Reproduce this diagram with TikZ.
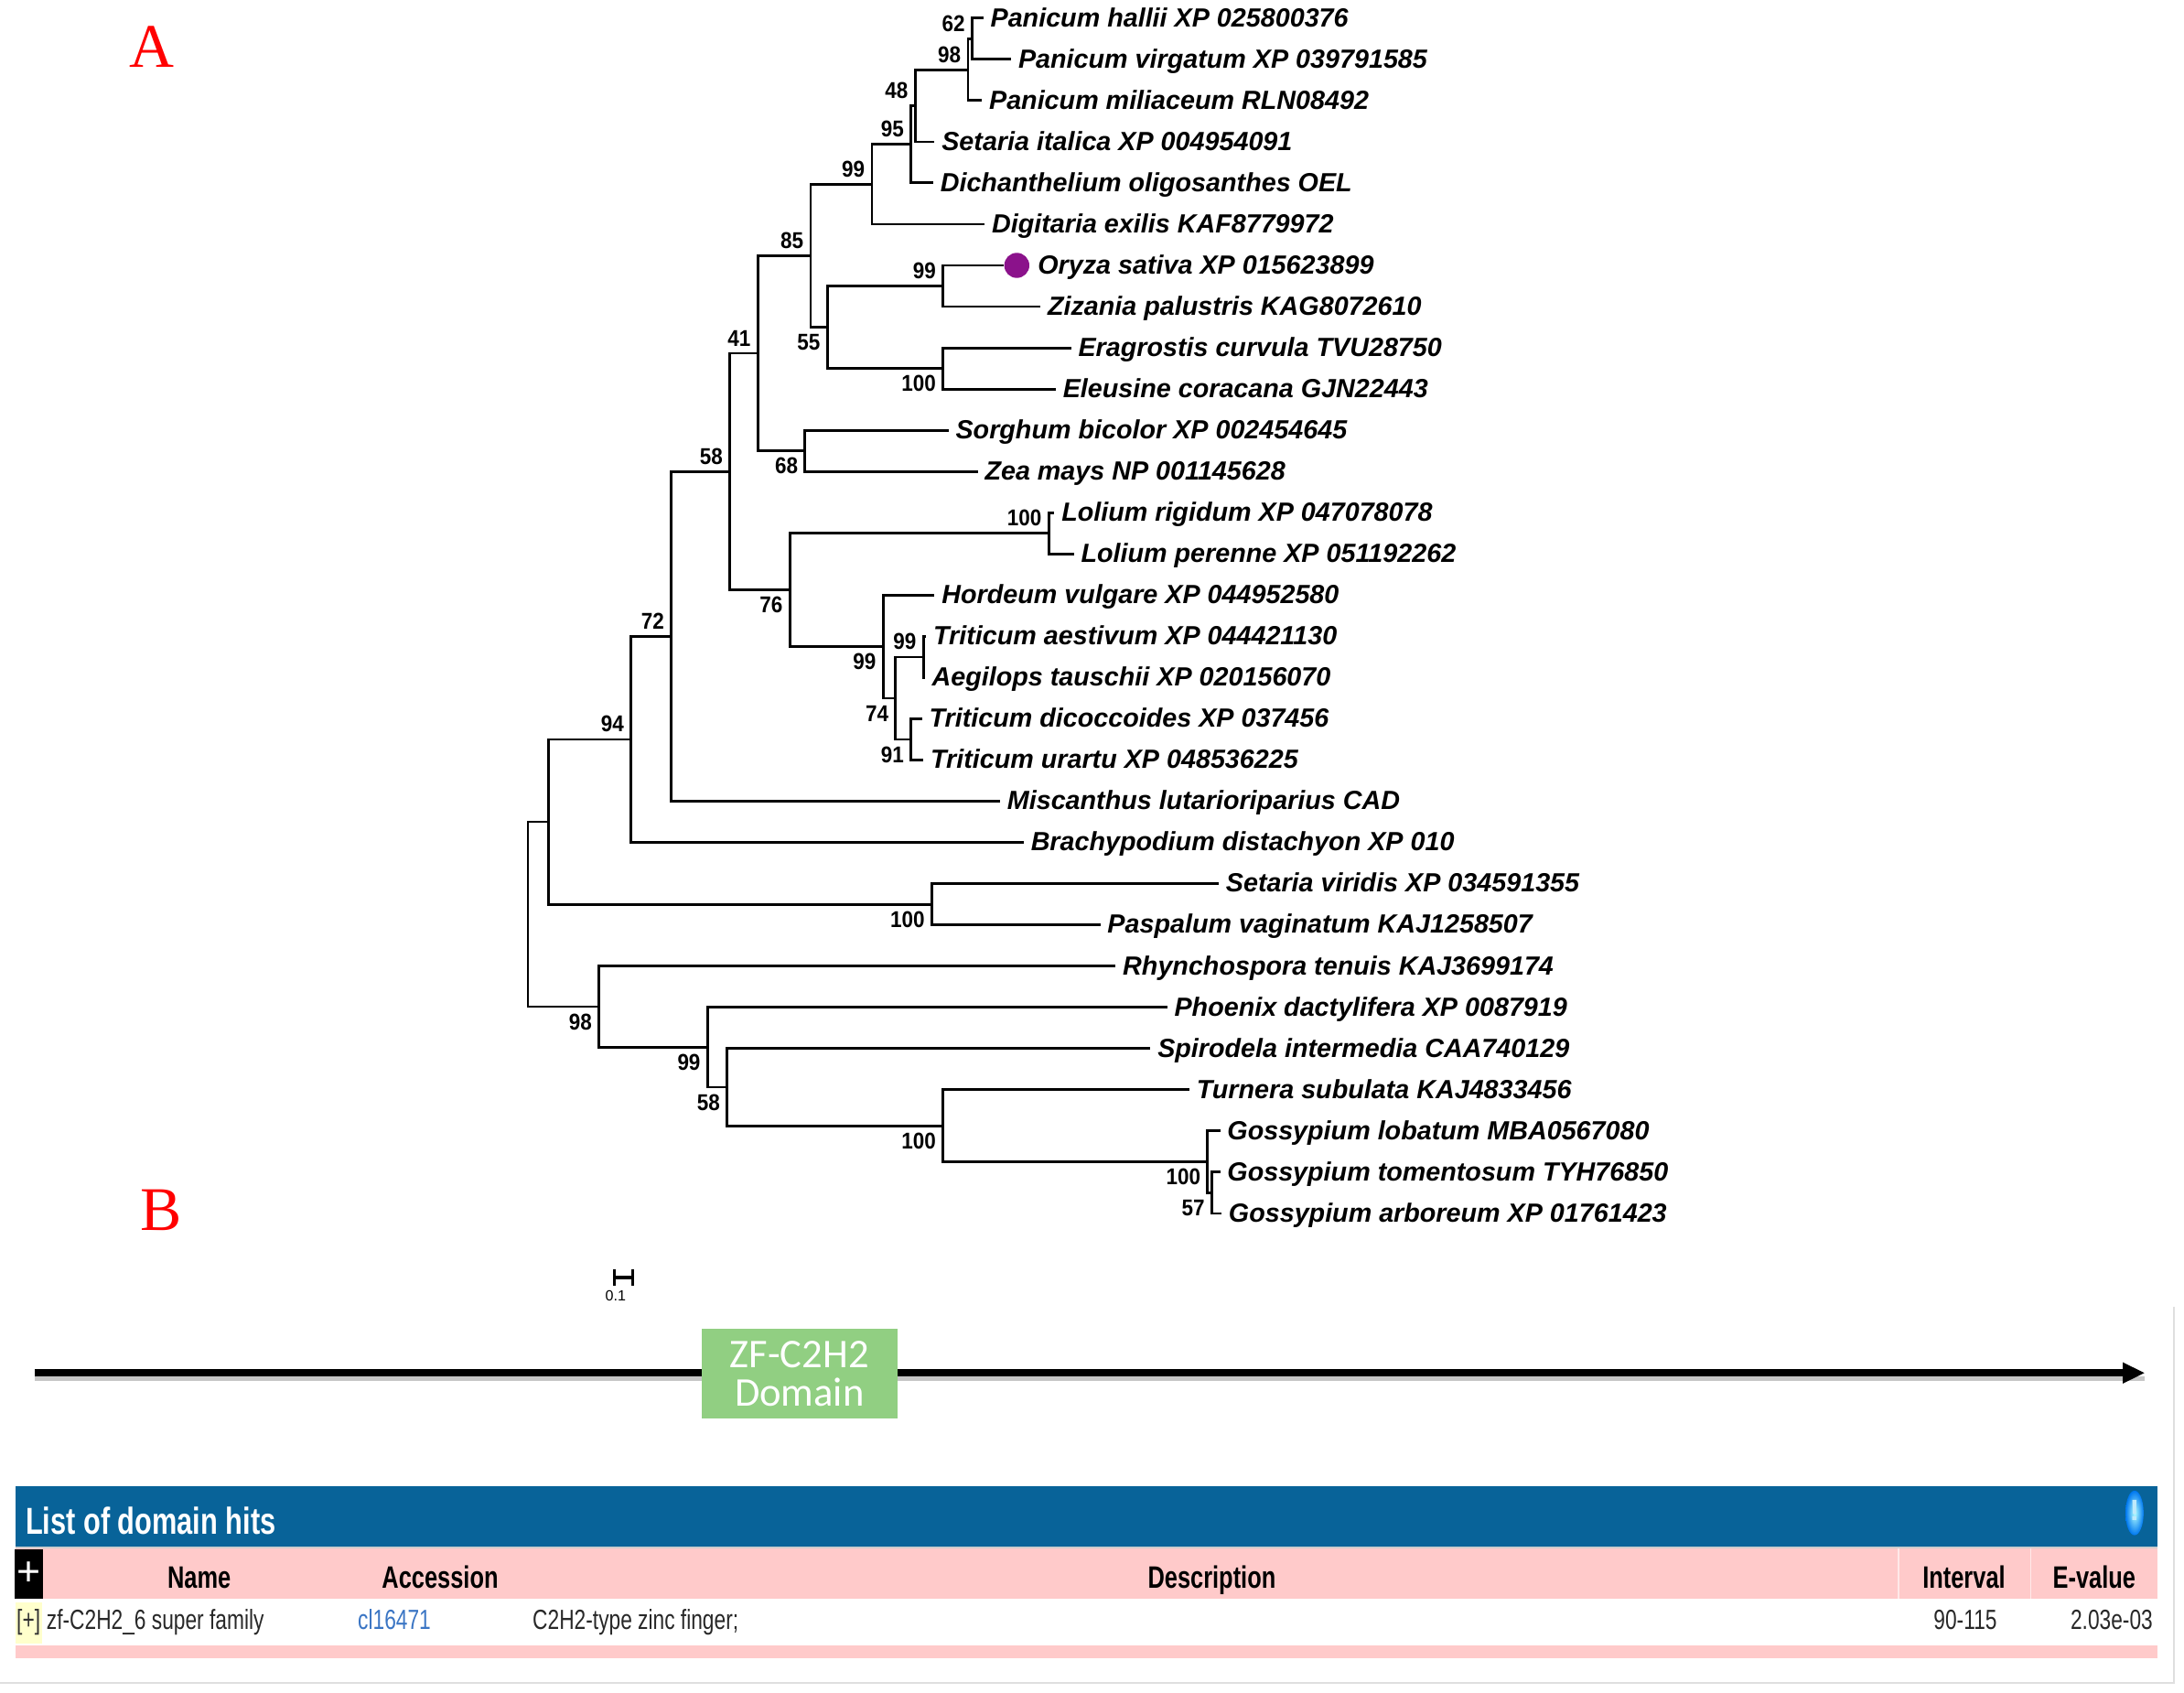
\documentclass[tikz,border=0pt]{standalone}
\usepackage{fontspec}
\setmainfont{Liberation Sans}
\newfontfamily\panelfont{Liberation Serif}
\newfontfamily\boxfont{Carlito}
\newfontfamily\narrowfont[FakeStretch=0.75]{Liberation Sans}
\newfontfamily\bootfont[FakeStretch=0.9]{Liberation Sans}
\usetikzlibrary{arrows.meta,positioning}

\definecolor{dotpurple}{RGB}{139,18,139}
\definecolor{domgreen}{RGB}{145,207,130}
\definecolor{hitsblue}{RGB}{8,99,153}
\definecolor{hitspink}{RGB}{255,202,202}
\definecolor{acclink}{RGB}{58,117,196}
\definecolor{togglebg}{RGB}{255,255,204}
\definecolor{rowtext}{RGB}{40,40,40}

\begin{document}
\begin{tikzpicture}[x=0.15mm, y=-0.15mm,
    leaf/.style = {anchor=west, inner sep=2pt, text height=5.8pt, text depth=0.6pt, font=\fontsize{8.05}{9}\selectfont\bfseries\itshape},
    boot/.style = {inner sep=2pt, font=\bootfont\fontsize{7}{8}\selectfont\bfseries},
    br/.style = {line width=0.8pt},
    panel/.style = {inner sep=0pt, text=red, font=\panelfont\fontsize{19}{22}\selectfont},
    domainbox/.style = {fill=domgreen, text=white, align=center, inner sep=0pt, minimum width=21.1mm, minimum height=9.7mm, font=\boxfont\fontsize{12.5}{11.8}\selectfont},
    hitstitle/.style = {anchor=base west, inner sep=0pt, text=white, font=\narrowfont\bfseries\fontsize{11.5}{14}\selectfont},
    hitshead/.style = {anchor=base, inner sep=0pt, font=\narrowfont\bfseries\fontsize{9.5}{11}\selectfont},
    hitsrow/.style = {anchor=base west, inner sep=0pt, text=rowtext, font=\narrowfont\fontsize{8.5}{10}\selectfont}]

    \fill[white] (0,0) rectangle (1568,1215);
    \useasboundingbox (0,0) rectangle (1568,1215);

    \node[panel] (labA) at (108.8,33.3) {A};
    \node[panel] (labB) at (115.5,869) {B};

    \node[leaf] (hallii) at (706,13) {Panicum hallii XP 025800376};
    \node[leaf] (virgatum) at (726,42.6) {Panicum virgatum XP 039791585};
    \node[leaf] (miliaceum) at (705,72.2) {Panicum miliaceum RLN08492};
    \node[leaf] (italica) at (671,101.8) {Setaria italica XP 004954091};
    \node[leaf] (dichanth) at (670,131.3) {Dichanthelium oligosanthes OEL};
    \node[leaf] (digitaria) at (707,160.9) {Digitaria exilis KAF8779972};
    \node[circle, fill=dotpurple, minimum size=2.7mm, inner sep=0pt] (oryzadot) at (730,190.5) {};
    \node[leaf] (oryza) at (740,190.5) {Oryza sativa XP 015623899};
    \node[leaf] (zizania) at (747,220.1) {Zizania palustris KAG8072610};
    \node[leaf] (eragrostis) at (769,249.7) {Eragrostis curvula TVU28750};
    \node[leaf] (eleusine) at (758,279.3) {Eleusine coracana GJN22443};
    \node[leaf] (sorghum) at (681,308.9) {Sorghum bicolor XP 002454645};
    \node[leaf] (zea) at (702,338.4) {Zea mays NP 001145628};
    \node[leaf] (lrigidum) at (757,368) {Lolium rigidum XP 047078078};
    \node[leaf] (lperenne) at (771,397.6) {Lolium perenne XP 051192262};
    \node[leaf] (hordeum) at (671,427.2) {Hordeum vulgare XP 044952580};
    \node[leaf] (aestivum) at (665,456.8) {Triticum aestivum XP 044421130};
    \node[leaf] (aegilops) at (664,486.4) {Aegilops tauschii XP 020156070};
    \node[leaf] (dicoccoides) at (662,516) {Triticum dicoccoides XP 037456};
    \node[leaf] (urartu) at (663,545.6) {Triticum urartu XP 048536225};
    \node[leaf] (miscanthus) at (718,575.1) {Miscanthus lutarioriparius CAD};
    \node[leaf] (brachy) at (735,604.7) {Brachypodium distachyon XP 010};
    \node[leaf] (viridis) at (875,634.3) {Setaria viridis XP 034591355};
    \node[leaf] (paspalum) at (790,663.9) {Paspalum vaginatum KAJ1258507};
    \node[leaf] (rhyncho) at (801,693.5) {Rhynchospora tenuis KAJ3699174};
    \node[leaf] (phoenix) at (838,723.1) {Phoenix dactylifera XP 0087919};
    \node[leaf] (spirodela) at (826,752.7) {Spirodela intermedia CAA740129};
    \node[leaf] (turnera) at (854,782.3) {Turnera subulata KAJ4833456};
    \node[leaf] (globatum) at (876,811.8) {Gossypium lobatum MBA0567080};
    \node[leaf] (gtoment) at (876,841.4) {Gossypium tomentosum TYH76850};
    \node[leaf] (garboreum) at (877,871) {Gossypium arboreum XP 01761423};

    \coordinate (n62) at (698,27.8);
    \coordinate (n98a) at (695,50);
    \coordinate (n48) at (657,75.9);
    \coordinate (n95) at (654,103.6);
    \coordinate (n99a) at (626,132.25);
    \coordinate (n99b) at (677,205.3);
    \coordinate (n100a) at (677,264.5);
    \coordinate (n55) at (594,234.9);
    \coordinate (n85) at (582,183.6);
    \coordinate (n68) at (578,323.65);
    \coordinate (n41) at (544,253.6);
    \coordinate (n100b) at (753,382.8);
    \coordinate (n99c) at (663,471.6);
    \coordinate (n91) at (654,530.8);
    \coordinate (n74) at (643,501.2);
    \coordinate (n99d) at (634,464.2);
    \coordinate (n76) at (567,423.5);
    \coordinate (n58a) at (524,338.55);
    \coordinate (n72) at (482,456.8);
    \coordinate (n94) at (453,530.75);
    \coordinate (n100c) at (669,649.1);
    \coordinate (nx) at (394,589.9);
    \coordinate (n57) at (870,856.2);
    \coordinate (n100e) at (867,834);
    \coordinate (n100d) at (677,808.15);
    \coordinate (n58b) at (522,780.4);
    \coordinate (n99e) at (508,751.75);
    \coordinate (n98b) at (430,722.6);
    \coordinate (root) at (379,656.25);

    \draw[br] (n62) |- (hallii.west);
    \draw[br] (n62) |- (virgatum.west);
    \draw[br] (n98a) |- (n62);
    \draw[br] (n98a) |- (miliaceum.west);
    \draw[br] (n48) |- (n98a);
    \draw[br] (n48) |- (italica.west);
    \draw[br] (n95) |- (n48);
    \draw[br] (n95) |- (dichanth.west);
    \draw[br] (n99a) |- (n95);
    \draw[br] (n99a) |- (digitaria.west);

    \draw[br] (n99b) |- (oryzadot.west);
    \draw[br] (n99b) |- (zizania.west);
    \draw[br] (n100a) |- (eragrostis.west);
    \draw[br] (n100a) |- (eleusine.west);
    \draw[br] (n55) |- (n99b);
    \draw[br] (n55) |- (n100a);
    \draw[br] (n85) |- (n99a);
    \draw[br] (n85) |- (n55);

    \draw[br] (n68) |- (sorghum.west);
    \draw[br] (n68) |- (zea.west);
    \draw[br] (n41) |- (n85);
    \draw[br] (n41) |- (n68);

    \draw[br] (n100b) |- (lrigidum.west);
    \draw[br] (n100b) |- (lperenne.west);
    \draw[br] (n99c) |- (aestivum.west);
    \draw[br] (n99c) |- (aegilops.west);
    \draw[br] (n91) |- (dicoccoides.west);
    \draw[br] (n91) |- (urartu.west);
    \draw[br] (n74) |- (n99c);
    \draw[br] (n74) |- (n91);
    \draw[br] (n99d) |- (hordeum.west);
    \draw[br] (n99d) |- (n74);
    \draw[br] (n76) |- (n100b);
    \draw[br] (n76) |- (n99d);

    \draw[br] (n58a) |- (n41);
    \draw[br] (n58a) |- (n76);
    \draw[br] (n72) |- (n58a);
    \draw[br] (n72) |- (miscanthus.west);
    \draw[br] (n94) |- (n72);
    \draw[br] (n94) |- (brachy.west);
    \draw[br] (n100c) |- (viridis.west);
    \draw[br] (n100c) |- (paspalum.west);
    \draw[br] (nx) |- (n94);
    \draw[br] (nx) |- (n100c);

    \draw[br] (n57) |- (gtoment.west);
    \draw[br] (n57) |- (garboreum.west);
    \draw[br] (n100e) |- (globatum.west);
    \draw[br] (n100e) |- (n57);
    \draw[br] (n100d) |- (turnera.west);
    \draw[br] (n100d) |- (n100e);
    \draw[br] (n58b) |- (spirodela.west);
    \draw[br] (n58b) |- (n100d);
    \draw[br] (n99e) |- (phoenix.west);
    \draw[br] (n99e) |- (n58b);
    \draw[br] (n98b) |- (rhyncho.west);
    \draw[br] (n98b) |- (n99e);
    \draw[br] (root) |- (nx);
    \draw[br] (root) |- (n98b);

    \node[boot, above left] (b62) at (n62) {62};
    \node[boot, above left] (b98a) at (n98a) {98};
    \node[boot, above left] (b48) at (n48) {48};
    \node[boot, above left] (b95) at (n95) {95};
    \node[boot, above left] (b99a) at (n99a) {99};
    \node[boot, above left] (b85) at (n85) {85};
    \node[boot, above left] (b99b) at (n99b) {99};
    \node[boot, below left] (b55) at (n55) {55};
    \node[boot, below left] (b100a) at (n100a) {100};
    \node[boot, above left] (b41) at (n41) {41};
    \node[boot, below left] (b68) at (n68) {68};
    \node[boot, above left] (b58a) at (n58a) {58};
    \node[boot, above left] (b100b) at (n100b) {100};
    \node[boot, below left] (b76) at (n76) {76};
    \node[boot, above left] (b99c) at (n99c) {99};
    \node[boot, below left] (b99d) at (n99d) {99};
    \node[boot, below left] (b74) at (n74) {74};
    \node[boot, below left] (b91) at (n91) {91};
    \node[boot, above left] (b72) at (n72) {72};
    \node[boot, above left] (b94) at (n94) {94};
    \node[boot, below left] (b100c) at (n100c) {100};
    \node[boot, below left] (b98b) at (n98b) {98};
    \node[boot, below left] (b99e) at (n99e) {99};
    \node[boot, below left] (b58b) at (n58b) {58};
    \node[boot, below left] (b100d) at (n100d) {100};
    \node[boot, below left] (b100e) at (n100e) {100};
    \node[boot, below left] (b57) at (n57) {57};

    \coordinate (sbl) at (441,917);
    \coordinate (sbr) at (454,917);
    \draw[line width=0.9pt] (sbl) -- (sbr);
    \draw[line width=0.9pt] ([yshift=0.9mm]sbl) -- ([yshift=-0.9mm]sbl);
    \draw[line width=0.9pt] ([yshift=0.9mm]sbr) -- ([yshift=-0.9mm]sbr);
    \node[inner sep=0pt, font=\fontsize{4.5}{5}\selectfont] (sblabel) at (442,930) {0.1};

    \coordinate (protn) at (25,985.5);
    \coordinate (protc) at (1540,985.5);
    \draw[gray!45, line width=0.5mm] ([yshift=-0.64mm]protn) -- ([yshift=-0.64mm]protc);
    \draw[line width=0.75mm, -{Triangle[length=2.4mm, width=2.1mm]}] (protn) -- (protc);
    \node[domainbox] (zfdomain) at (574,986) {ZF-C2H2\\Domain};

    \draw[gray!25, line width=0.6pt] (1560.5,938) -- (1560.5,1208) -- (0,1208);

    \fill[hitsblue] (11,1066.5) rectangle (1549,1110.3);
    \draw[gray!40, line width=0.4pt] (11,1110.8) -- (1549,1110.8);
    \fill[hitspink] (11,1111.3) rectangle (1549,1147.5);
    \fill[hitspink] (11,1181) rectangle (1549,1190);
    \fill[togglebg] (11,1150) rectangle (30.5,1180);
    \draw[white, opacity=0.6, line width=0.4pt] (1363,1111.3) -- (1363,1147.5);
    \draw[white, opacity=0.6, line width=0.4pt] (1458,1111.3) -- (1458,1147.5);

    \node[hitstitle] (title) at (18,1101) {List of domain hits};
    \coordinate (info) at (1532.5,1086);
    \shade[inner color=cyan!30!white, outer color={rgb,255:red,0;green,120;blue,240}] (info) ellipse [x radius=6.5, y radius=16];
    \node[inner sep=0pt, text=white!75!cyan, font=\bfseries\fontsize{9}{9}\selectfont] (infomark) at (1532.5,1084) {!};

    \node[fill=black, text=white, inner sep=0pt, minimum width=3.05mm, minimum height=5.3mm, font=\fontsize{12.5}{12.5}\selectfont] (plus) at (21,1129.6) {+};
    \node[hitshead] (hname) at (143,1140) {Name};
    \node[hitshead] (hacc) at (316,1140) {Accession};
    \node[hitshead] (hdesc) at (870,1140) {Description};
    \node[hitshead] (hint) at (1410,1140) {Interval};
    \node[hitshead] (heval) at (1503.5,1140) {E-value};

    \node[hitsrow, anchor=base, text=black!80] (toggle) at (20.5,1169.5) {[+]};
    \node[hitsrow] (rowname) at (33,1169.5) {zf-C2H2\_6 super family};
    \node[hitsrow, text=acclink] (rowacc) at (256.5,1169.5) {cl16471};
    \node[hitsrow] (rowdesc) at (382,1169.5) {C2H2-type zinc finger;};
    \node[hitsrow, anchor=base] (rowint) at (1411,1169.5) {90-115};
    \node[hitsrow, anchor=base east] (roweval) at (1546,1169.5) {2.03e-03};

\end{tikzpicture}
\end{document}
